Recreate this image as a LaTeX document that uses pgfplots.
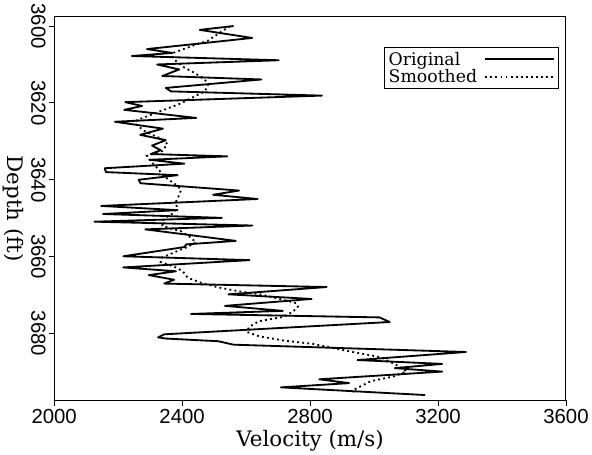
\documentclass[border=0pt]{standalone}
\usepackage{fontspec}
\setmainfont{DejaVu Serif}
\newfontfamily\tickfont{Liberation Sans}
\usepackage{pgfplots}
\usepackage{pgfplotstable}
\pgfplotsset{compat=1.18}

% velocity (m/s) against depth (ft)
\pgfplotstableread{
v d
2561 3600.0
2455 3601.0
2619 3603.1
2290 3606.0
2370 3607.0
2243 3607.8
2702 3608.9
2322 3610.0
2391 3611.3
2338 3613.0
2648 3613.9
2349 3616.1
2365 3617.0
2837 3618.1
2222 3619.8
2275 3620.8
2219 3621.8
2444 3623.9
2190 3624.9
2340 3626.7
2269 3628.3
2349 3629.7
2306 3631.1
2333 3632.3
2302 3633.3
2541 3633.9
2299 3634.8
2407 3635.8
2158 3637.0
2162 3638.0
2386 3638.8
2264 3640.0
2270 3640.9
2578 3642.8
2497 3643.9
2636 3645.0
2147 3646.8
2386 3647.9
2153 3648.9
2524 3649.9
2126 3650.9
2620 3651.9
2285 3652.9
2568 3655.9
2413 3656.8
2407 3657.5
2216 3659.9
2611 3660.9
2216 3662.8
2381 3663.8
2296 3664.8
2375 3666.0
2344 3667.0
2852 3667.9
2545 3669.8
2805 3671.0
2534 3672.8
2715 3674.1
2428 3674.9
3017 3675.8
3049 3677.0
2344 3680.2
2325 3681.0
2349 3681.3
2513 3682.0
2561 3682.9
3287 3684.8
2948 3686.9
3213 3687.9
3065 3689.0
3213 3689.9
2829 3691.9
2922 3692.9
2709 3694.0
3160 3696.0
}\original

\pgfplotstableread{
v d
2550 3600.1
2529 3601.1
2481 3603.8
2434 3605.1
2375 3606.9
2370 3608.0
2381 3609.1
2407 3610.8
2439 3612.2
2471 3613.9
2481 3615.3
2471 3617.0
2439 3618.3
2397 3620.1
2312 3622.8
2259 3624.5
2254 3625.4
2280 3627.2
2312 3628.5
2338 3629.4
2354 3630.7
2338 3632.5
2290 3633.8
2301 3635.1
2322 3636.9
2344 3639.1
2365 3640.4
2381 3641.3
2397 3642.6
2391 3643.9
2381 3645.7
2384 3647.4
2370 3648.8
2344 3650.1
2338 3651.9
2365 3652.7
2397 3653.4
2423 3654.8
2444 3656.3
2413 3657.6
2375 3658.9
2338 3660.2
2333 3661.4
2375 3662.6
2402 3663.8
2418 3665.5
2460 3666.8
2513 3668.0
2577 3669.0
2651 3669.9
2715 3671.2
2757 3672.1
2762 3673.0
2747 3674.3
2715 3675.7
2640 3676.8
2609 3678.3
2603 3679.6
2640 3680.7
2715 3681.8
2810 3682.7
2916 3684.5
3022 3686.2
3075 3688.4
3102 3689.8
3065 3691.1
2990 3692.4
2937 3694.6
2937 3695.3
}\smoothed

\begin{document}
\begin{tikzpicture}
\begin{axis}[
    scale only axis,
    width=503pt, height=377pt,
    xmin=2000, xmax=3600,
    ymin=3597.6, ymax=3697.4,
    y dir=reverse,
    xtick={2000,2400,2800,3200,3600},
    ytick={3600,3620,3640,3660,3680},
    tick pos=left,
    tick align=outside,
    major tick length=5pt,
    tick style={line width=0.8pt, black},
    axis line style={line width=1pt},
    /pgf/number format/1000 sep={},
    /pgf/number format/assume math mode=true,
    ticklabel style={font=\tickfont\fontsize{20}{20}\selectfont},
    yticklabel style={rotate=-90, anchor=north},
    xlabel={Velocity (m/s)},
    ylabel={Depth (ft)},
    label style={font=\fontsize{21}{21}\selectfont},
    ylabel style={rotate=180},
    legend plot pos=right,
    legend cell align=left,
    legend image code/.code={\draw[#1] (0pt,0pt) -- (68pt,0pt);},
    legend style={
        at={(0.986,0.92)}, anchor=north east,
        draw=black, line width=0.8pt,
        font=\fontsize{17}{17}\selectfont,
        /tikz/row sep=1pt, /tikz/column sep=6pt, inner sep=3pt,
        nodes={inner sep=1pt},
    },
]
\addplot[black, line width=1.8pt, line join=round] table[x=v, y=d] {\original};
\addlegendentry{Original}
\addplot[black, line width=1.8pt, dash pattern=on 1.8pt off 3.2pt] table[x=v, y=d] {\smoothed};
\addlegendentry{Smoothed}
\end{axis}
\end{tikzpicture}
\end{document}
